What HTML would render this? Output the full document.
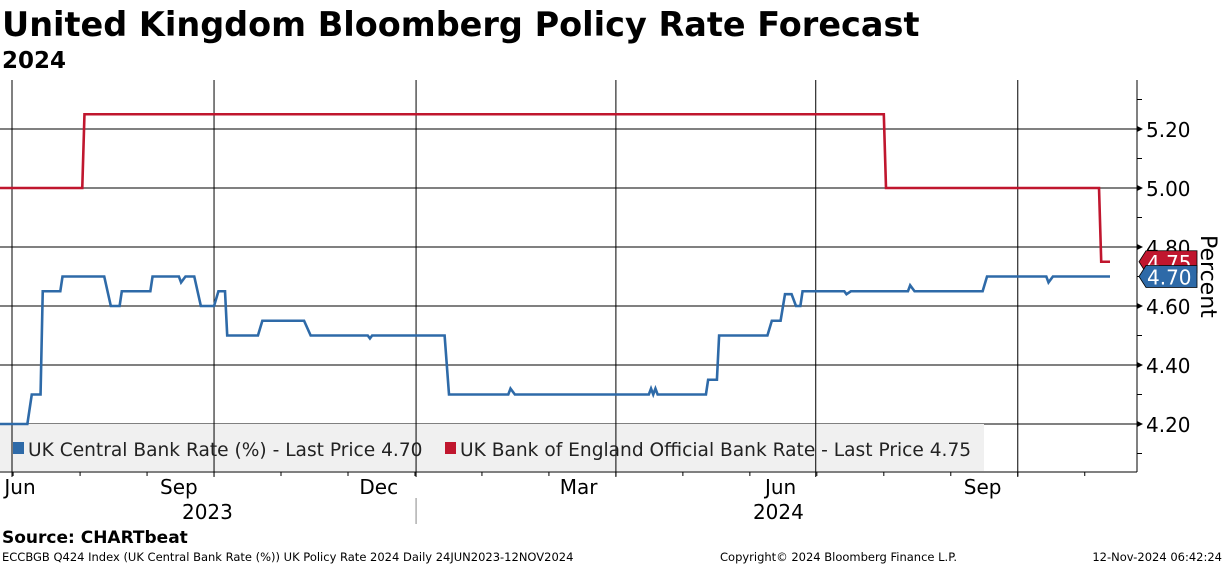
<!DOCTYPE html>
<html><head><meta charset="utf-8"><style>
body{margin:0;background:#fff;width:1224px;height:566px;overflow:hidden;font-family:"Liberation Sans","DejaVu Sans",sans-serif}
svg text{font-family:"DejaVu Sans","Liberation Sans",sans-serif}
</style></head><body>
<svg id="c" width="1224" height="566" xmlns="http://www.w3.org/2000/svg">
<text x="2" y="36" font-size="33.5" font-weight="bold" fill="#000">United Kingdom Bloomberg Policy Rate Forecast</text>
<text x="2" y="68" font-size="23" font-weight="bold" fill="#000">2024</text>
<g id="grid"></g>
<rect x="0" y="424" width="984" height="47" fill="#f0f0f0"/>
<g id="vgrid"></g>
<g id="series"></g>
<g>
<rect x="13" y="442" width="11" height="12" fill="#2e6aa8"/>
<text x="28" y="456" font-size="18.6" fill="#222">UK Central Bank Rate (%) - Last Price 4.70</text>
<rect x="445" y="442" width="11" height="12" fill="#c0162e"/>
<text x="460" y="456" font-size="18.6" fill="#222">UK Bank of England Official Bank Rate - Last Price 4.75</text>
</g>
<g id="axes"></g>
<text transform="translate(1201,235) rotate(90)" font-size="22" fill="#000">Percent</text>
<text x="2" y="543" font-size="17" font-weight="bold" fill="#000">Source: CHARTbeat</text>
<text x="2" y="561" font-size="11.5" fill="#000">ECCBGB Q424 Index (UK Central Bank Rate (%)) UK Policy Rate 2024  Daily 24JUN2023-12NOV2024</text>
<text x="720" y="561" font-size="11.5" fill="#000">Copyright© 2024 Bloomberg Finance L.P.</text>
<text x="1222" y="561" font-size="11.5" fill="#000" text-anchor="end">12-Nov-2024 06:42:24</text>
</svg>
<script>
// days since 2023-07-01
const blueDays=[-7,7,9,13,14,22,23,42,45,49,50,63,64,76,77,79,83,86,92,94,97,98,112,114,133,136,162,163,164,197,199,226,227,229,290,291,292,293,294,316,317,321,322,344,346,350,352,355,357,359,360,379,380,382,408,409,411,442,444,471,472,474,500];
const blueVals=[4.20,4.20,4.30,4.30,4.65,4.65,4.70,4.70,4.60,4.60,4.65,4.65,4.70,4.70,4.68,4.70,4.70,4.60,4.60,4.65,4.65,4.50,4.50,4.55,4.55,4.50,4.50,4.49,4.50,4.50,4.30,4.30,4.32,4.30,4.30,4.32,4.30,4.32,4.30,4.30,4.35,4.35,4.50,4.50,4.55,4.55,4.64,4.64,4.60,4.60,4.65,4.65,4.64,4.65,4.65,4.67,4.65,4.65,4.70,4.70,4.68,4.70,4.70];
const redDays=[-7,32,33,397,398,495,496,500];
const redVals=[5.00,5.00,5.25,5.25,5.00,5.00,4.75,4.75];
const yTicks=[4.20,4.40,4.60,4.80,5.00,5.20];
const yTickLabels=["4.20","4.40","4.60","4.80","5.00","5.20"];
const quarterDays=[0,92,184,275,366,458];
const monthLabels=["Jun","Sep","Dec","Mar","Jun","Sep"];
const monthLabelDays=[-8,76,167,258,350,442];
const yearLabels=["2023","2024"];
const yearLabelDays=[89,349];
const lastBlue="4.70", lastRed="4.75";

const NS="http://www.w3.org/2000/svg";
const X=d=>12+d*2.196;
const Y=v=>424-(v-4.2)*295;
const plotTop=80,plotBot=472,plotRight=1137;
function mk(t,a,p){const e=document.createElementNS(NS,t);for(const k in a)e.setAttribute(k,a[k]);p.appendChild(e);return e;}
const grid=document.getElementById('grid'),vg=document.getElementById('vgrid'),ser=document.getElementById('series'),ax=document.getElementById('axes');
yTicks.forEach((v,i)=>{
 const l=mk('line',{x1:0,x2:plotRight,y1:Y(v),y2:Y(v),stroke:'#000','stroke-width':1},grid);
 
 
 const t=mk('text',{x:1146,y:Y(v)+8,'font-size':20,fill:'#000'},ax);
 t.textContent=yTickLabels[i];
 
 
 mk('path',{d:`M${plotRight} ${Y(v)-3}L${plotRight+6} ${Y(v)}L${plotRight} ${Y(v)+3}Z`,fill:'#000'},ax);
});
for(let v=4.1;v<5.35;v+=0.2){mk('line',{x1:plotRight,x2:plotRight+5,y1:Y(v),y2:Y(v),stroke:'#000'},ax);}
mk('line',{x1:plotRight,x2:plotRight,y1:plotTop,y2:plotBot,stroke:'#000'},ax);
mk('line',{x1:0,x2:plotRight,y1:plotBot,y2:plotBot,stroke:'#000'},ax);
quarterDays.forEach(d=>{
 const l=mk('line',{x1:X(d),x2:X(d),y1:plotTop,y2:plotBot+5,stroke:'#000','stroke-width':1},vg);
 
 
});
for(let d=-30;d<520;d+=30.5){if(X(d)>0&&X(d)<plotRight)mk('line',{x1:X(d),x2:X(d),y1:plotBot,y2:plotBot+4,stroke:'#000'},ax);}
monthLabels.forEach((m,i)=>{
 const t=mk('text',{x:Math.max(X(monthLabelDays[i]),20),y:494,'font-size':20,fill:'#000','text-anchor':'middle'},ax);
 t.textContent=m;
 
 
});
yearLabels.forEach((m,i)=>{
 const t=mk('text',{x:X(yearLabelDays[i]),y:519,'font-size':20,fill:'#000','text-anchor':'middle'},ax);
 t.textContent=m;
 
 
});
mk('line',{x1:X(184),x2:X(184),y1:498,y2:524,stroke:'#888'},ax);
function line(days,vals,col,name){
 const p=mk('polyline',{points:days.map((d,i)=>X(d)+','+Y(vals[i])).join(' '),fill:'none',stroke:col,'stroke-width':2.6},ser);
 
 
}
line(redDays,redVals,'#c0162e','official-bank-rate-line');
line(blueDays,blueVals,'#2e6aa8','central-bank-rate-line');
function tag(val,txt,col,name){
 const y=Y(parseFloat(val));
 const p=mk('path',{d:`M1139 ${y}L1146 ${y-11}L1197 ${y-11}L1197 ${y+11}L1146 ${y+11}Z`,fill:col,stroke:'#000','stroke-width':0.8},ax);
 
 
 const t=mk('text',{x:1147,y:y+8,'font-size':20,fill:'#fff'},ax);
 t.textContent=txt;
 
 
}
tag(lastRed,lastRed,'#c0162e','last-price-tag-red');
tag(lastBlue,lastBlue,'#2e6aa8','last-price-tag-blue');
</script>
</body></html>
